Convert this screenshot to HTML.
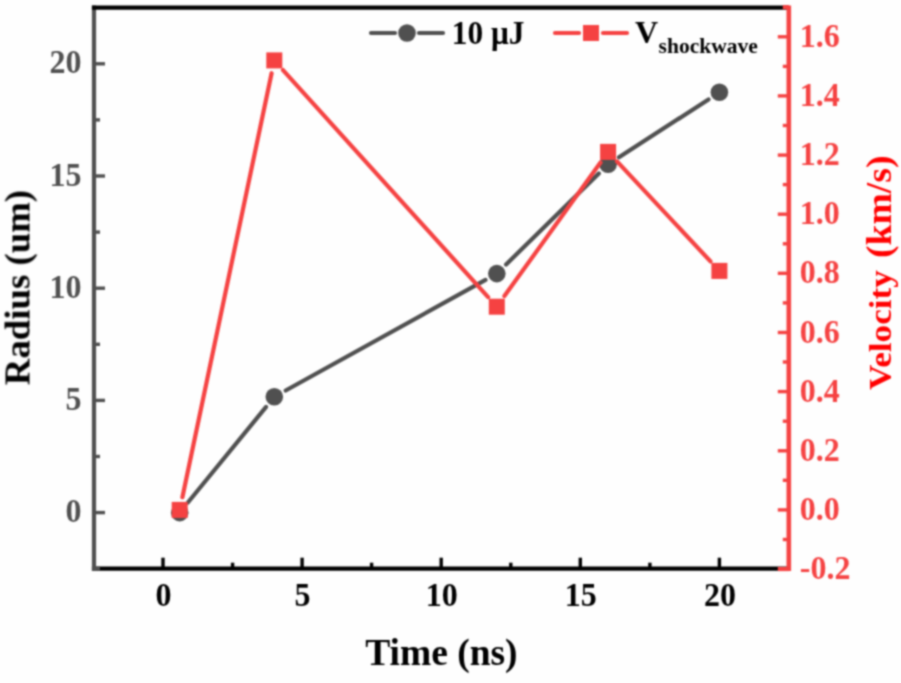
<!DOCTYPE html><html><head><meta charset="utf-8"><style>html,body{margin:0;padding:0;background:#fefefe;}svg{display:block;}text{font-family:"Liberation Serif",serif;font-weight:bold;}</style></head><body>
<svg width="901" height="683" viewBox="0 0 901 683">
<defs><filter id="bl" x="-5%" y="-5%" width="110%" height="110%" color-interpolation-filters="sRGB"><feConvolveMatrix order="5" kernelMatrix="0.00087 0.00695 0.01388 0.00695 0.00087 0.00695 0.05540 0.11068 0.05540 0.00695 0.01388 0.11068 0.22111 0.11068 0.01388 0.00695 0.05540 0.11068 0.05540 0.00695 0.00087 0.00695 0.01388 0.00695 0.00087" divisor="1" edgeMode="duplicate" preserveAlpha="false"/></filter></defs>
<rect x="-10" y="-10" width="921" height="703" fill="#fefefe"/>
<g filter="url(#bl)">
<line x1="94.0" y1="568.7" x2="788.8" y2="568.7" stroke="#000" stroke-width="4.2" stroke-linecap="square"/>
<line x1="163.0" y1="568.7" x2="163.0" y2="557.7" stroke="#000" stroke-width="3.4"/>
<text transform="translate(163.5,606) scale(1,1.05)" font-size="32" text-anchor="middle" fill="#000">0</text>
<line x1="302.1" y1="568.7" x2="302.1" y2="557.7" stroke="#000" stroke-width="3.4"/>
<text transform="translate(302.6,606) scale(1,1.05)" font-size="32" text-anchor="middle" fill="#000">5</text>
<line x1="441.2" y1="568.7" x2="441.2" y2="557.7" stroke="#000" stroke-width="3.4"/>
<text transform="translate(441.7,606) scale(1,1.05)" font-size="32" text-anchor="middle" fill="#000">10</text>
<line x1="580.3" y1="568.7" x2="580.3" y2="557.7" stroke="#000" stroke-width="3.4"/>
<text transform="translate(580.8,606) scale(1,1.05)" font-size="32" text-anchor="middle" fill="#000">15</text>
<line x1="719.4" y1="568.7" x2="719.4" y2="557.7" stroke="#000" stroke-width="3.4"/>
<text transform="translate(719.9,606) scale(1,1.05)" font-size="32" text-anchor="middle" fill="#000">20</text>
<line x1="232.6" y1="568.7" x2="232.6" y2="562.7" stroke="#000" stroke-width="3.4"/>
<line x1="371.6" y1="568.7" x2="371.6" y2="562.7" stroke="#000" stroke-width="3.4"/>
<line x1="510.8" y1="568.7" x2="510.8" y2="562.7" stroke="#000" stroke-width="3.4"/>
<line x1="649.9" y1="568.7" x2="649.9" y2="562.7" stroke="#000" stroke-width="3.4"/>
<line x1="94.0" y1="7.7" x2="94.0" y2="568.7" stroke="#505050" stroke-width="4.2" stroke-linecap="square"/>
<line x1="94.0" y1="512.6" x2="105.0" y2="512.6" stroke="#505050" stroke-width="3.4"/>
<text transform="translate(81.5,522.1) scale(1,1.05)" font-size="32" text-anchor="end" fill="#505050">0</text>
<line x1="94.0" y1="400.4" x2="105.0" y2="400.4" stroke="#505050" stroke-width="3.4"/>
<text transform="translate(81.5,409.9) scale(1,1.05)" font-size="32" text-anchor="end" fill="#505050">5</text>
<line x1="94.0" y1="288.2" x2="105.0" y2="288.2" stroke="#505050" stroke-width="3.4"/>
<text transform="translate(81.5,297.7) scale(1,1.05)" font-size="32" text-anchor="end" fill="#505050">10</text>
<line x1="94.0" y1="176.0" x2="105.0" y2="176.0" stroke="#505050" stroke-width="3.4"/>
<text transform="translate(81.5,185.5) scale(1,1.05)" font-size="32" text-anchor="end" fill="#505050">15</text>
<line x1="94.0" y1="63.8" x2="105.0" y2="63.8" stroke="#505050" stroke-width="3.4"/>
<text transform="translate(81.5,73.3) scale(1,1.05)" font-size="32" text-anchor="end" fill="#505050">20</text>
<line x1="94.0" y1="568.7" x2="100.0" y2="568.7" stroke="#505050" stroke-width="4.2"/>
<line x1="94.0" y1="456.5" x2="100.0" y2="456.5" stroke="#505050" stroke-width="3.4"/>
<line x1="94.0" y1="344.3" x2="100.0" y2="344.3" stroke="#505050" stroke-width="3.4"/>
<line x1="94.0" y1="232.1" x2="100.0" y2="232.1" stroke="#505050" stroke-width="3.4"/>
<line x1="94.0" y1="119.9" x2="100.0" y2="119.9" stroke="#505050" stroke-width="3.4"/>
<line x1="91.9" y1="7.7" x2="788.8" y2="7.7" stroke="#000" stroke-width="4.2"/>
<line x1="788.8" y1="7.7" x2="788.8" y2="568.7" stroke="#f54242" stroke-width="4.6000000000000005" stroke-linecap="square"/>
<line x1="788.8" y1="569.0" x2="777.8" y2="569.0" stroke="#f54242" stroke-width="4.2"/>
<text transform="translate(799.8,579.0) scale(1,1.05)" font-size="32" fill="#f54242">-0.2</text>
<line x1="788.8" y1="509.9" x2="777.8" y2="509.9" stroke="#f54242" stroke-width="3.4"/>
<text transform="translate(799.8,519.9) scale(1,1.05)" font-size="32" fill="#f54242">0.0</text>
<line x1="788.8" y1="450.8" x2="777.8" y2="450.8" stroke="#f54242" stroke-width="3.4"/>
<text transform="translate(799.8,460.8) scale(1,1.05)" font-size="32" fill="#f54242">0.2</text>
<line x1="788.8" y1="391.6" x2="777.8" y2="391.6" stroke="#f54242" stroke-width="3.4"/>
<text transform="translate(799.8,401.6) scale(1,1.05)" font-size="32" fill="#f54242">0.4</text>
<line x1="788.8" y1="332.5" x2="777.8" y2="332.5" stroke="#f54242" stroke-width="3.4"/>
<text transform="translate(799.8,342.5) scale(1,1.05)" font-size="32" fill="#f54242">0.6</text>
<line x1="788.8" y1="273.3" x2="777.8" y2="273.3" stroke="#f54242" stroke-width="3.4"/>
<text transform="translate(799.8,283.3) scale(1,1.05)" font-size="32" fill="#f54242">0.8</text>
<line x1="788.8" y1="214.2" x2="777.8" y2="214.2" stroke="#f54242" stroke-width="3.4"/>
<text transform="translate(799.8,224.2) scale(1,1.05)" font-size="32" fill="#f54242">1.0</text>
<line x1="788.8" y1="155.1" x2="777.8" y2="155.1" stroke="#f54242" stroke-width="3.4"/>
<text transform="translate(799.8,165.1) scale(1,1.05)" font-size="32" fill="#f54242">1.2</text>
<line x1="788.8" y1="95.9" x2="777.8" y2="95.9" stroke="#f54242" stroke-width="3.4"/>
<text transform="translate(799.8,105.9) scale(1,1.05)" font-size="32" fill="#f54242">1.4</text>
<line x1="788.8" y1="36.8" x2="777.8" y2="36.8" stroke="#f54242" stroke-width="3.4"/>
<text transform="translate(799.8,46.8) scale(1,1.05)" font-size="32" fill="#f54242">1.6</text>
<line x1="788.8" y1="539.5" x2="782.8" y2="539.5" stroke="#f54242" stroke-width="3.4"/>
<line x1="788.8" y1="480.3" x2="782.8" y2="480.3" stroke="#f54242" stroke-width="3.4"/>
<line x1="788.8" y1="421.2" x2="782.8" y2="421.2" stroke="#f54242" stroke-width="3.4"/>
<line x1="788.8" y1="362.0" x2="782.8" y2="362.0" stroke="#f54242" stroke-width="3.4"/>
<line x1="788.8" y1="302.9" x2="782.8" y2="302.9" stroke="#f54242" stroke-width="3.4"/>
<line x1="788.8" y1="243.8" x2="782.8" y2="243.8" stroke="#f54242" stroke-width="3.4"/>
<line x1="788.8" y1="184.6" x2="782.8" y2="184.6" stroke="#f54242" stroke-width="3.4"/>
<line x1="788.8" y1="125.5" x2="782.8" y2="125.5" stroke="#f54242" stroke-width="3.4"/>
<line x1="788.8" y1="66.4" x2="782.8" y2="66.4" stroke="#f54242" stroke-width="3.4"/>
<line x1="788.8" y1="7.2" x2="782.8" y2="7.2" stroke="#f54242" stroke-width="4.2"/>
<line x1="187.9" y1="502.5" x2="266.1" y2="406.9" stroke="#505050" stroke-width="4.2" stroke-linecap="round"/>
<line x1="285.7" y1="390.5" x2="485.5" y2="279.9" stroke="#505050" stroke-width="4.2" stroke-linecap="round"/>
<line x1="506.1" y1="264.5" x2="598.8" y2="173.4" stroke="#505050" stroke-width="4.2" stroke-linecap="round"/>
<line x1="619.0" y1="157.3" x2="708.5" y2="99.4" stroke="#505050" stroke-width="4.2" stroke-linecap="round"/>
<circle cx="179.7" cy="512.6" r="8.8" fill="#505050"/>
<circle cx="274.3" cy="396.8" r="8.8" fill="#505050"/>
<circle cx="496.8" cy="273.6" r="8.8" fill="#505050"/>
<circle cx="608.1" cy="164.3" r="8.8" fill="#505050"/>
<circle cx="719.4" cy="92.3" r="8.8" fill="#505050"/>
<line x1="182.4" y1="497.2" x2="271.6" y2="73.2" stroke="#f54242" stroke-width="4.2" stroke-linecap="round"/>
<line x1="283.0" y1="70.1" x2="488.1" y2="297.1" stroke="#f54242" stroke-width="4.2" stroke-linecap="round"/>
<line x1="504.4" y1="296.1" x2="600.5" y2="162.5" stroke="#f54242" stroke-width="4.2" stroke-linecap="round"/>
<line x1="617.0" y1="161.4" x2="710.5" y2="261.4" stroke="#f54242" stroke-width="4.2" stroke-linecap="round"/>
<rect x="171.7" y="501.9" width="16" height="16" fill="#f54242"/>
<rect x="266.3" y="52.4" width="16" height="16" fill="#f54242"/>
<rect x="488.8" y="298.7" width="16" height="16" fill="#f54242"/>
<rect x="600.1" y="143.9" width="16" height="16" fill="#f54242"/>
<rect x="711.4" y="262.9" width="16" height="16" fill="#f54242"/>
<line x1="371" y1="33" x2="395" y2="33" stroke="#505050" stroke-width="4.2" stroke-linecap="round"/>
<line x1="419" y1="33" x2="443" y2="33" stroke="#505050" stroke-width="4.2" stroke-linecap="round"/>
<circle cx="407" cy="33" r="8.8" fill="#505050"/>
<text transform="translate(451.8,44) scale(0.98,1.05)" font-size="32" fill="#000">10 μJ</text>
<line x1="555" y1="33" x2="579" y2="33" stroke="#f54242" stroke-width="4.2" stroke-linecap="round"/>
<line x1="603" y1="33" x2="627" y2="33" stroke="#f54242" stroke-width="4.2" stroke-linecap="round"/>
<rect x="583" y="25" width="16" height="16" fill="#f54242"/>
<text x="635" y="43" font-size="32" fill="#000">V<tspan font-size="21.5" dx="0.5" dy="9.5">shockwave</tspan></text>
<text x="441.4" y="665" font-size="37.5" text-anchor="middle" fill="#000">Time (ns)</text>
<text transform="translate(29.5,287.5) rotate(-90)" font-size="36.8" text-anchor="middle" fill="#000">Radius (um)</text>
<text transform="translate(890.5,390.0) rotate(-90) scale(0.956,0.88)" font-size="36.8" fill="#ff0000">Velocity</text>
<text transform="translate(890.5,258.0) rotate(-90) scale(1.023,1)" font-size="36.8" fill="#ff0000">(km/s)</text>
</g></svg></body></html>
